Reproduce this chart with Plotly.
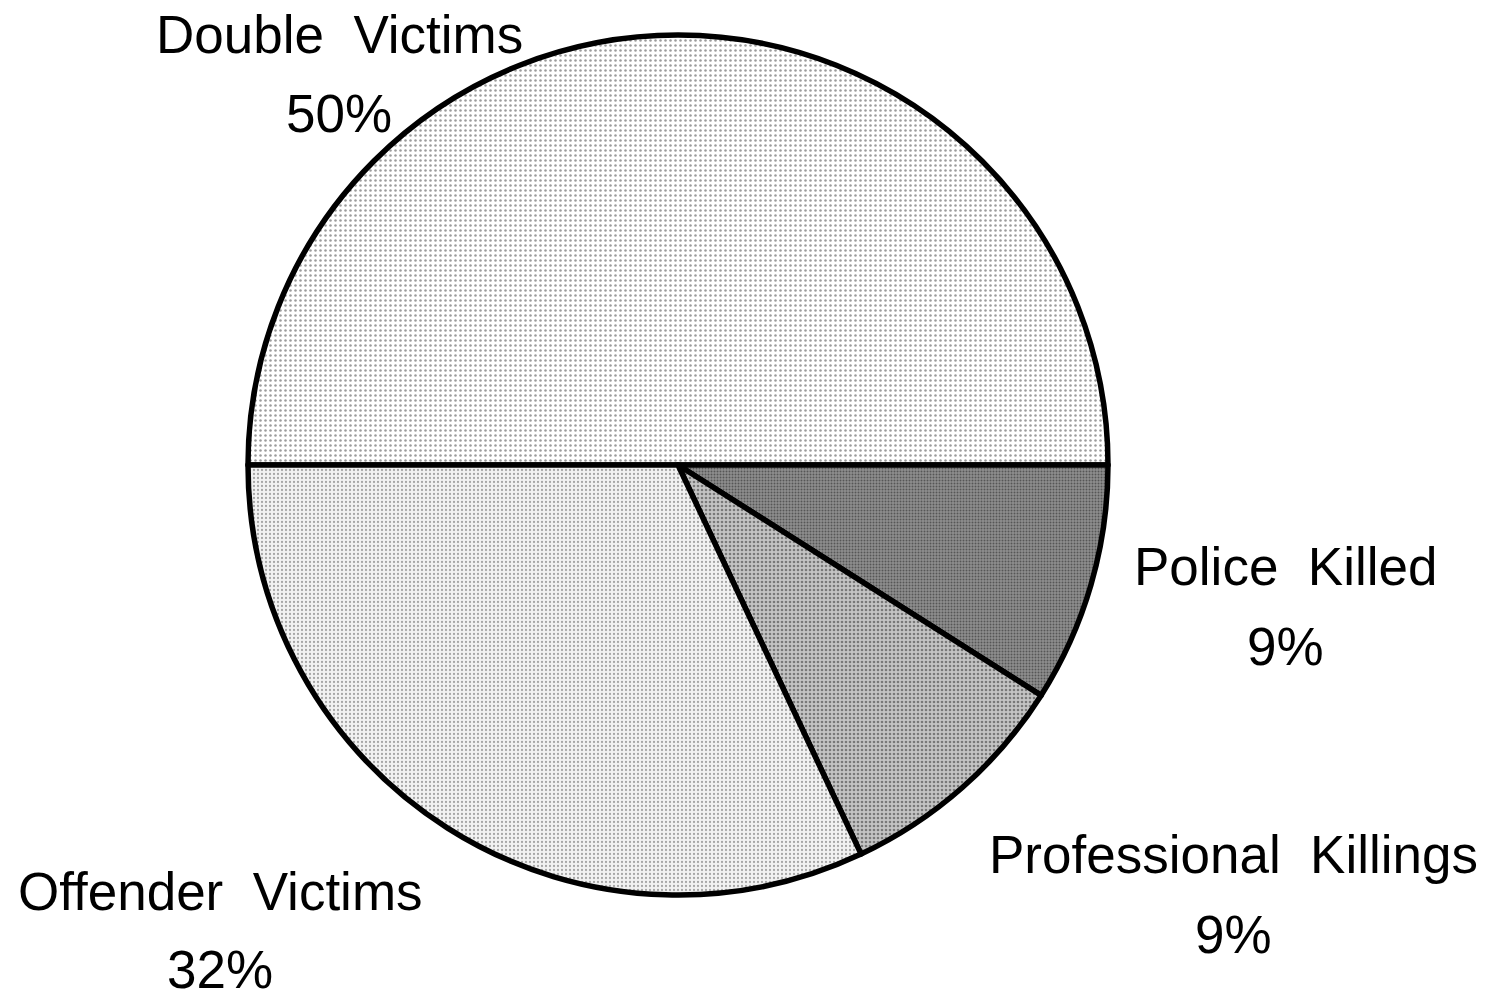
import plotly.graph_objects as go

# Data
categories = ["Double Victims", "Police Killed", "Professional Killings", "Offender Victims"]
percents = [50, 9, 9, 32]

W, H = 1493, 990
OFF = 8  # default page margin of the html body
cx, cy, R = 678 - OFF, 465 - OFF, 430

fills = [
    dict(bg="#ffffff", fg="#3a3a3a", size=5, solidity=0.2),
    dict(bg="#8e8e8e", fg="#1e1e1e", size=3, solidity=0.35),
    dict(bg="#c4c4c4", fg="#2e2e2e", size=4, solidity=0.35),
    dict(bg="#f2f2f2", fg="#5a5a5a", size=4, solidity=0.25),
]

fig = go.Figure(go.Pie(
    labels=categories,
    values=percents,
    sort=False,
    direction="clockwise",
    rotation=270,
    textinfo="none",
    hoverinfo="label+percent",
    marker=dict(
        colors=[f["bg"] for f in fills],
        line=dict(color="black", width=5.5),
        pattern=dict(
            shape=["."] * 4,
            fgcolor=[f["fg"] for f in fills],
            bgcolor=[f["bg"] for f in fills],
            size=[f["size"] for f in fills],
            solidity=[f["solidity"] for f in fills],
            fillmode="overlay",
        ),
    ),
    domain=dict(x=[(cx - R) / W, (cx + R) / W], y=[1 - (cy + R) / H, 1 - (cy - R) / H]),
    showlegend=False,
))

# label placement (pixel centres of name line and percent line, in page pixels)
label_pos = [
    (339, 35, 113),
    (1285, 566, 646),
    (1233, 854, 934),
    (220, 891, 969),
]
font = dict(family="Liberation Sans, Arial, Helvetica, sans-serif", size=53, color="black")
annotations = []
for name, val, (px, py1, py2) in zip(categories, percents, label_pos):
    annotations.append(dict(x=(px - OFF) / W, y=1 - (py1 - OFF) / H, xref="paper", yref="paper",
                            text=name.replace(" ", "\u00a0 "), showarrow=False, font=font,
                            xanchor="center", yanchor="middle"))
    annotations.append(dict(x=(px - OFF) / W, y=1 - (py2 - OFF) / H, xref="paper", yref="paper",
                            text=f"{val}%", showarrow=False, font=font,
                            xanchor="center", yanchor="middle"))

fig.update_layout(
    width=W, height=H,
    margin=dict(l=0, r=0, t=0, b=0),
    paper_bgcolor="white", plot_bgcolor="white",
    annotations=annotations,
)

fig.write_html("out.html")
